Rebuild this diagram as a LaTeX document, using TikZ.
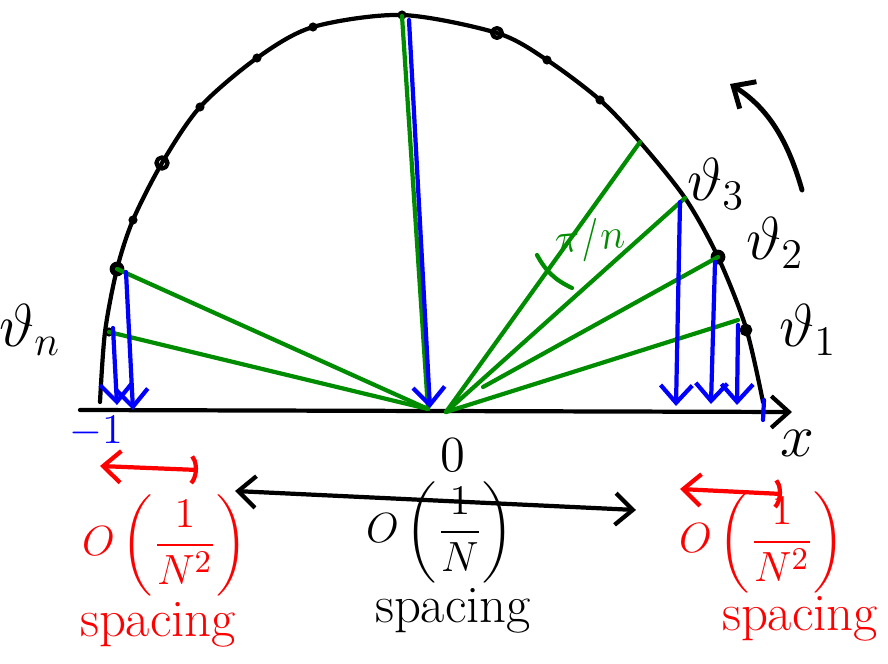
\documentclass[tikz,border=0pt]{standalone}
\usepackage{amsmath}
\usetikzlibrary{arrows.meta}
\definecolor{penblue}{RGB}{0,0,255}
\definecolor{pengreen}{RGB}{0,140,0}
\definecolor{penred}{RGB}{255,0,0}
\def\penwidth{1.2pt}
\tikzset{
    ink/.style={line width=\penwidth, line cap=round, line join=round},
    barb/.style={-{Straight Barb[length=5pt,width=9pt]}},
    twobarb/.style={{Straight Barb[length=5pt,width=9pt]}-{Straight Barb[length=5pt,width=9pt]}},
    barbparen/.style={{Straight Barb[length=5pt,width=9pt]}-{Parenthesis[length=3pt,width=10pt]}},
    hand/.style={font=\fontsize{18}{21}\selectfont, inner sep=0pt},
    order/.style={font=\fontsize{13}{16}\selectfont, inner sep=0pt},
    spacingtext/.style={font=\fontsize{15}{18}\selectfont, inner sep=0pt, anchor=base},
}

\begin{document}
\begin{tikzpicture}[x=0.01cm,y=-0.01cm]
    \useasboundingbox (0,0) rectangle (888,664);
    % points on the half circle
    \coordinate (Ol) at (428,409);
    \coordinate (Or) at (446,412);
    \coordinate (ptop) at (402,16);
    \coordinate (pn) at (117,269);
    \coordinate (pm) at (109,332);
    \coordinate (pa) at (640,142);
    \coordinate (p3) at (685,198);
    \coordinate (p2) at (718,257);
    \coordinate (p1) at (738,320);
    \coordinate (q2) at (483,387);
    % axis and half circle
    \coordinate (xl) at (80,410);
    \coordinate (xr) at (792,412);
    \draw[ink,barb] (xl) -- (xr);
    \draw[ink] plot[smooth] coordinates {(100,402) (105,332) (117,269) (133,220) (162,163)
        (200,107) (257,58) (313,27) (402,15) (497,33) (547,60) (600,100) (640,142)
        (685,198) (718,257) (746,328) (763,402)};
    \foreach \p in {(133,220),(200,107),(257,58),(313,27),(402,15),(547,60),(600,100),(109,332)}
        \fill \p circle (1.3pt);
    \filldraw (117,269) circle (1.9pt);
    \filldraw (718,257) circle (1.9pt);
    \filldraw (746,330) circle (1.6pt);
    \draw[ink] (162,163) circle (1.6pt);
    \draw[ink] (497,33) circle (1.4pt);
    % green rays
    \draw[ink,pengreen] (ptop) -- (Ol);
    \draw[ink,pengreen] (pn) -- (Ol);
    \draw[ink,pengreen] (pm) -- (Ol);
    \foreach \q in {pa,p3,p1}
        \draw[ink,pengreen] (Or) -- (\q);
    \draw[ink,pengreen] (q2) -- (p2);
    \draw[ink,pengreen] (537,255) to[bend right=18] (572,288);
    \node[pengreen, font=\fontsize{12}{14}\selectfont, rotate=5] (angle) at (590,240) {$\pi/n$};
    % blue projections
    \draw[ink,penblue,barb] (409,20) -- (430,408);
    \draw[ink,penblue,barb] (126,272) -- (133,410);
    \draw[ink,penblue,barb] (113,328) -- (117,405);
    \draw[ink,penblue,barb] (680,202) -- (676,406);
    \draw[ink,penblue,barb] (715,262) -- (711,404);
    \draw[ink,penblue,barb] (738,325) -- (737,405);
    \draw[ink,penblue] (764,400) -- (763,420);
    \node[penblue, font=\fontsize{13}{15}\selectfont] (mone) at (96,432) {$-1$};
    % labels on the axis
    \node[font=\fontsize{15}{17}\selectfont] (zero) at (453,455) {$0$};
    \node[hand] (xlab) at (797,443) {$x$};
    \node[hand] (th3) at (716,184) {$\vartheta_3$};
    \node[hand] (th2) at (775,243) {$\vartheta_2$};
    \node[hand] (th1) at (808,330) {$\vartheta_1$};
    \node[hand] (thn) at (30,330) {$\vartheta_n$};
    % direction of the angles
    \coordinate (turnA) at (802,190);
    \coordinate (turnB) at (730,84);
    \draw[ink,line width=1.4pt,barb] (turnA) .. controls (790,148) and (772,110) .. (turnB);
    % spacings
    \coordinate (ml) at (235,491);
    \coordinate (mr) at (636,510);
    \draw[ink,twobarb] (mr) -- (ml);
    \coordinate (ll) at (100,466);
    \coordinate (lr) at (198,470);
    \draw[ink,penred,barbparen] (ll) -- (lr);
    \coordinate (rl) at (680,489);
    \coordinate (rr) at (782,494);
    \draw[ink,penred,barbparen] (rl) -- (rr);
    \node[order] (mid) at (440,532) {$O\left(\dfrac{1}{N}\right)$};
    \node[spacingtext] (midsp) at (453,622) {spacing};
    \node[order,penred] (left) at (165,545) {$O\left(\dfrac{1}{N^2}\right)$};
    \node[spacingtext,penred] (leftsp) at (158,636) {spacing};
    \node[order,penred] (right) at (762,542) {$O\left(\dfrac{1}{N^2}\right)$};
    \node[spacingtext,penred] (rightsp) at (800,630) {spacing};
\end{tikzpicture}
\end{document}
